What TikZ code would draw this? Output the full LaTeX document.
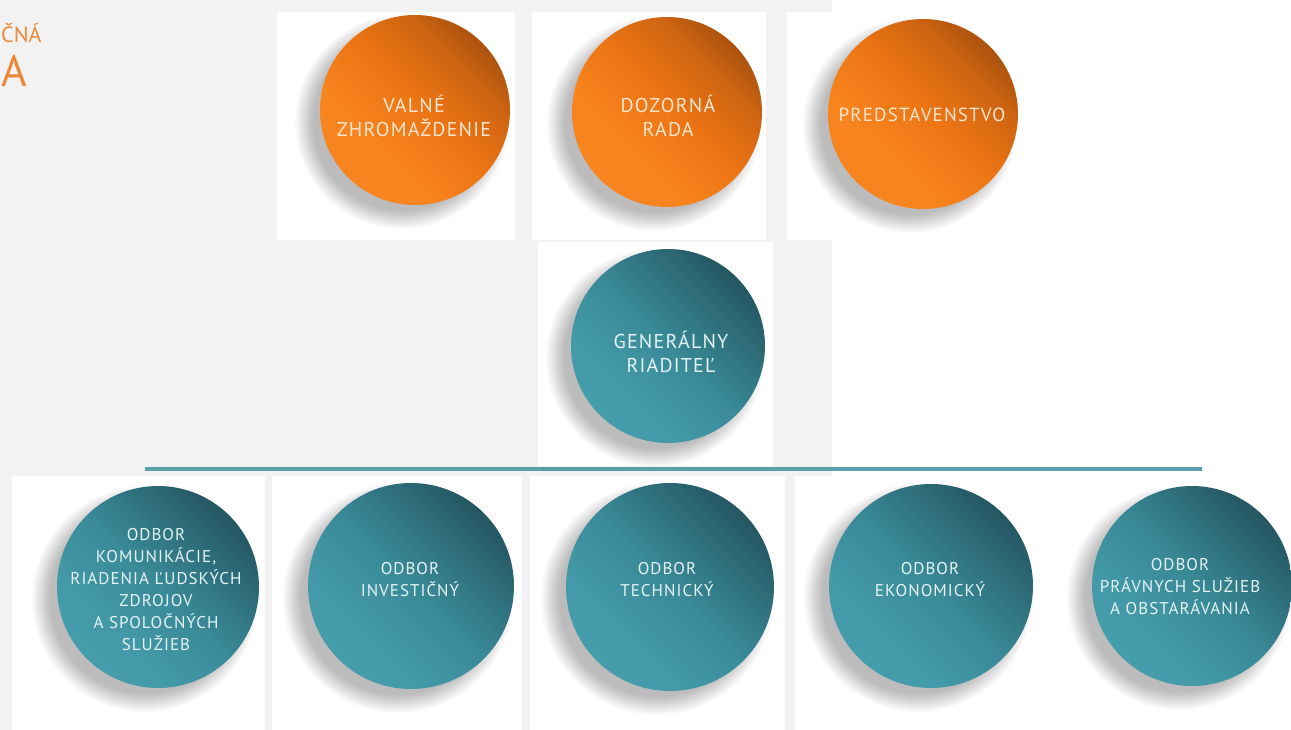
\documentclass[tikz,border=0pt]{standalone}
\usepackage{fontspec}
\setmainfont{PT Sans}
\newfontfamily\ballfont{PT Sans}[LetterSpace=6]
\definecolor{bggray}{HTML}{F2F2F2}
\definecolor{orA}{HTML}{F7841E}
\definecolor{orB}{HTML}{EC7414}
\definecolor{orC}{HTML}{8A410B}
\definecolor{teA}{HTML}{4AA4B3}
\definecolor{teB}{HTML}{3A8A98}
\definecolor{teC}{HTML}{1C434D}
\definecolor{linecol}{HTML}{5A9FA9}
\definecolor{titlecol}{HTML}{E9893C}
\definecolor{ortext}{HTML}{FBE6CF}
\definecolor{tetext}{HTML}{E4F3F4}
\pgfdeclareverticalshading{orshade}{100bp}{color(0bp)=(orA); color(36bp)=(orA); color(52bp)=(orB); color(66bp)=(orB!70!orC); color(84bp)=(orC); color(100bp)=(orC)}
\pgfdeclareverticalshading{teshade}{100bp}{color(0bp)=(teA); color(34bp)=(teA!60!teB); color(50bp)=(teB); color(66bp)=(teB!55!teC); color(84bp)=(teC); color(100bp)=(teC)}
\tikzset{
  panel/.style={fill=white},
  ball/.style={circle, inner sep=0pt},
  orball/.style={ball, minimum size=190pt, shading=orshade, shading angle=-45},
  teball/.style={ball, shading=teshade, shading angle=-45},
  ortxt/.style={text=ortext, align=center, font=\ballfont\fontsize{20}{24}\selectfont},
  tetxt/.style={text=tetext, align=center, font=\ballfont\fontsize{17}{22}\selectfont},
  bar/.style={draw=linecol, line width=4.5pt},
}
\newcommand{\ballshadow}[3]{%
  \foreach \k in {0,...,13}{%
    \fill[black, opacity=0.018] (#1-13,#2+12) circle[radius={#3+12-1.4*\k}];
  }%
}
\begin{document}
\begin{tikzpicture}[x=1pt,y=-1pt]
\useasboundingbox (0,0) rectangle (1291,730);
\clip (0,0) rectangle (1291,730);
\fill[white] (0,0) rectangle (1291,730);
% grey background areas
\fill[bggray] (0,0) rectangle (832,476);
\fill[bggray] (0,476) rectangle (795,730);
% panels
\fill[panel] (277,12) rectangle (515,240);
\fill[panel] (532,12) rectangle (766,240);
\fill[panel] (787,12) rectangle (1291,240);
\fill[panel] (538,242) rectangle (773,466);
\fill[panel] (12,476) rectangle (265,730);
\fill[panel] (272,476) rectangle (522,730);
\fill[panel] (530,476) rectangle (785,730);
% title fragments
\node[anchor=south west, inner sep=0pt, text=titlecol, font=\fontsize{22}{22}\selectfont] (t1) at (1,43) {ČNÁ};
\node[anchor=south west, inner sep=0pt, text=titlecol, font=\fontsize{44}{44}\selectfont] (t2) at (1,87) {A};
% shadows
\ballshadow{415}{110}{95}
\ballshadow{667}{112}{95}
\ballshadow{923}{114}{95}
\ballshadow{668}{346}{97}
\ballshadow{158}{587}{101}
\ballshadow{411}{586}{103}
\ballshadow{670}{587}{104}
\ballshadow{931}{586}{102}
\ballshadow{1192}{586}{100}
% top row
\node[orball] (vz) at (415,110) {};
\node[orball] (dr) at (667,112) {};
\node[orball] (pr) at (923,114) {};
\node[ortxt] (vzt) at (414,116) {VALNÉ\\ZHROMAŽDENIE};
\node[ortxt] (drt) at (668,116) {DOZORNÁ\\RADA};
\node[ortxt, font=\ballfont\fontsize{19}{24}\selectfont] (prt) at (922,115) {PREDSTAVENSTVO};
% general director
\node[teball, minimum size=194pt] (gr) at (668,346) {};
\node[ortxt, text=tetext] (grt) at (671,352) {GENERÁLNY\\RIADITEĽ};
% bar
\coordinate (barL) at (145,469);
\coordinate (barR) at (1202,469);
\draw[bar] (barL) -- (barR);
% bottom row
\node[teball, minimum size=202pt] (o1) at (158,587) {};
\node[teball, minimum size=206pt] (o2) at (411,586) {};
\node[teball, minimum size=208pt] (o3) at (670,587) {};
\node[teball, minimum size=204pt] (o4) at (931,586) {};
\node[teball, minimum size=200pt] (o5) at (1192,586) {};
\node[tetxt] (o1t) at (156,590) {ODBOR\\KOMUNIKÁCIE,\\RIADENIA ĽUDSKÝCH\\ZDROJOV\\A SPOLOČNÝCH\\SLUŽIEB};
\node[tetxt] (o2t) at (410,580) {ODBOR\\INVESTIČNÝ};
\node[tetxt] (o3t) at (667,580) {ODBOR\\TECHNICKÝ};
\node[tetxt] (o4t) at (930,580) {ODBOR\\EKONOMICKÝ};
\node[tetxt] (o5t) at (1180,587) {ODBOR\\PRÁVNYCH SLUŽIEB\\A OBSTARÁVANIA};
\end{tikzpicture}
\end{document}
